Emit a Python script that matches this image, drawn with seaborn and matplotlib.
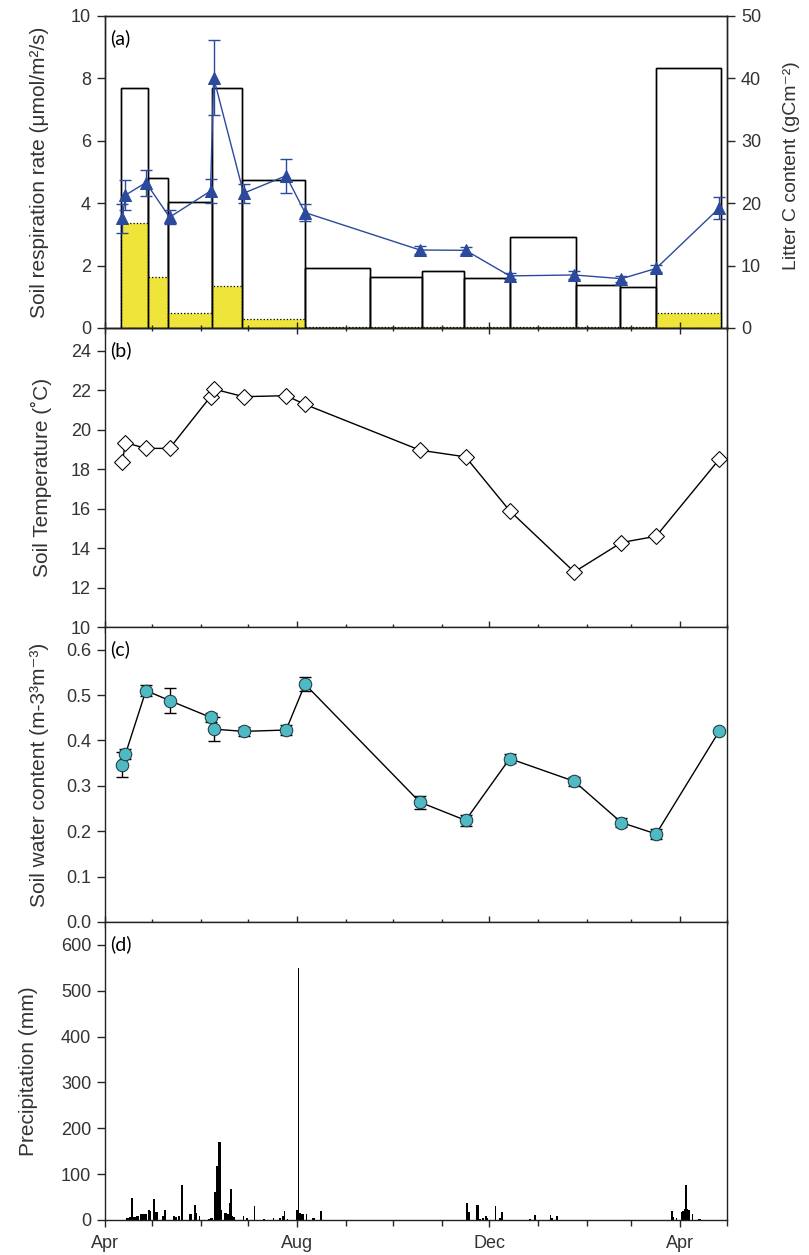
import matplotlib
matplotlib.use("Agg")
import matplotlib.pyplot as plt
import matplotlib.dates as mdates
import seaborn as sns
import pandas as pd

# sampling campaigns (shared by respiration, temperature and water content)
sample_dates = ["2009-04-12", "2009-04-14", "2009-04-27", "2009-05-12", "2009-06-07",
                "2009-06-09", "2009-06-28", "2009-07-25", "2009-08-06", "2009-10-18",
                "2009-11-16", "2009-12-14", "2010-01-24", "2010-02-23", "2010-03-17",
                "2010-04-26"]

resp = [3.51, 4.26, 4.66, 3.55, 4.39, 8.02, 4.32, 4.88, 3.70, 2.50, 2.49, 1.67, 1.70, 1.58, 1.91, 3.84]
resp_se = [0.47, 0.47, 0.42, 0.22, 0.37, 1.2, 0.3, 0.55, 0.28, 0.12, 0.12, 0.1, 0.12, 0.1, 0.12, 0.35]

temp = [18.36, 19.34, 19.05, 19.05, 21.67, 22.06, 21.67, 21.72, 21.28, 18.96, 18.62, 15.89,
        12.79, 14.28, 14.60, 18.49]

water = [0.347, 0.370, 0.510, 0.488, 0.451, 0.425, 0.420, 0.423, 0.524, 0.264, 0.224, 0.360,
         0.310, 0.219, 0.194, 0.420]
water_se = [0.028, 0.011, 0.012, 0.028, 0.010, 0.027, 0.010, 0.010, 0.016, 0.014, 0.012, 0.010,
            0.010, 0.010, 0.012, 0.0]

# litter collection periods (right axis of panel a)
litter_start = ["2009-04-11", "2009-04-28", "2009-05-11", "2009-06-08", "2009-06-27", "2009-08-06",
                "2009-09-16", "2009-10-19", "2009-11-15", "2009-12-14", "2010-01-25", "2010-02-22",
                "2010-03-17"]
litter_end = ["2009-04-28", "2009-05-11", "2009-06-08", "2009-06-27", "2009-08-06", "2009-09-16",
              "2009-10-19", "2009-11-15", "2009-12-14", "2010-01-25", "2010-02-22", "2010-03-17",
              "2010-04-27"]
litter_total = [38.5, 24.1, 20.2, 38.5, 23.7, 9.6, 8.1, 9.1, 8.0, 14.6, 6.9, 6.5, 41.7]
litter_fresh = [16.8, 8.2, 2.35, 6.7, 1.4, 0.2, 0.2, 0.2, 0.2, 0.2, 0.2, 0.2, 2.35]

# daily precipitation, days counted from 2009-04-01
precip_day = [14, 15, 16, 17, 18, 19, 20, 21, 23, 24, 25, 26, 28, 29, 31, 32, 33, 37, 38,
              44, 45, 47, 49, 54, 55, 57, 58, 60, 66, 67, 68, 70, 71, 72, 73, 74,
              76, 77, 78, 79, 80, 81, 82, 88, 90, 95, 101, 107, 111, 113, 114, 116,
              122, 123, 124, 125, 126, 128, 132, 133, 137,
              230, 231, 236, 237, 238, 240, 242, 243, 248, 251, 252,
              270, 273, 283, 284, 287,
              360, 361, 363, 366, 367, 368, 369, 370, 371, 373, 377, 378]
precip_mm = [4, 5, 6, 48, 7, 6, 8, 8, 12, 13, 13, 12, 22, 20, 45, 18, 18, 8, 22,
             8, 6, 8, 76, 14, 12, 33, 15, 8, 3, 5, 5, 62, 118, 170, 170, 22,
             15, 15, 14, 36, 68, 8, 6, 8, 4, 31, 3, 4, 5, 8, 19, 3,
             22, 550, 15, 14, 14, 14, 5, 4, 20,
             38, 18, 33, 33, 3, 5, 8, 4, 31, 5, 18,
             2, 10, 10, 5, 8,
             20, 6, 5, 18, 20, 25, 76, 25, 22, 12, 3, 3]

BLUE = "#2c4a9c"
TEAL = "#4fbac4"
YELLOW = "#efe43a"
TXT = "#333333"
LABEL_FS = 15

sns.set_style("ticks")
plt.rcParams["font.family"] = ["Liberation Sans", "DejaVu Sans"]
plt.rcParams["mathtext.fontset"] = "custom"
plt.rcParams["mathtext.rm"] = "Liberation Sans"
plt.rcParams["mathtext.it"] = "Liberation Sans:italic"
plt.rcParams["axes.linewidth"] = 1.0
plt.rcParams["axes.edgecolor"] = "#222222"

x_samp = mdates.date2num(pd.to_datetime(sample_dates))
x_lit0 = mdates.date2num(pd.to_datetime(litter_start))
x_lit1 = mdates.date2num(pd.to_datetime(litter_end))
lit_w = x_lit1 - x_lit0
x_rain = mdates.date2num(pd.Timestamp("2009-04-01") + pd.to_timedelta(precip_day, unit="D"))
xlim = mdates.date2num(pd.to_datetime(["2009-04-01", "2010-05-01"]))

fig = plt.figure(figsize=(8.09, 12.55), dpi=100)
L, R, H = 105 / 809, 727 / 809, 1255


def box(top, bot):
    return [L, 1 - bot / H, R - L, (bot - top) / H]


ax_a = fig.add_axes(box(16, 328))
ax_b = fig.add_axes(box(328, 627))
ax_c = fig.add_axes(box(627, 922))
ax_d = fig.add_axes(box(922, 1220))

# ---- (a) respiration + litter
ax_lit = ax_a.twinx()
ax_lit.bar(x_lit0, litter_total, width=lit_w, align="edge", color="white",
           edgecolor="black", linewidth=1.0, zorder=1)
ax_lit.bar(x_lit0, litter_fresh, width=lit_w, align="edge", color=YELLOW,
           edgecolor="black", linewidth=0.9, linestyle=":", zorder=2)
ax_lit.bar(x_lit0, litter_total, width=lit_w, align="edge", fill=False,
           edgecolor="black", linewidth=1.0, zorder=3)
ax_lit.set_ylim(0, 50)
ax_lit.set_yticks(range(0, 51, 10))
ax_lit.set_ylabel("Litter C content (gCm⁻²)", fontsize=14, color=TXT)
ax_lit.yaxis.set_label_coords(1.09, 0.52)

ax_a.set_zorder(ax_lit.get_zorder() + 1)
ax_a.patch.set_visible(False)
ax_a.errorbar(x_samp, resp, yerr=resp_se, fmt="none", ecolor=BLUE, elinewidth=1.0,
              capsize=4, capthick=1.0, zorder=4)
sns.lineplot(x=x_samp, y=resp, ax=ax_a, color=BLUE, linewidth=1.0, marker="^",
             markersize=9, markeredgecolor=BLUE, markerfacecolor=BLUE, zorder=5)
ax_a.set_ylim(0, 10)
ax_a.set_yticks(range(0, 11, 2))
ax_a.set_ylabel("Soil respiration rate (μmol/m²/s)", fontsize=LABEL_FS, color=TXT)
ax_a.yaxis.set_label_coords(-0.09, 0.5)

# ---- (b) temperature
sns.lineplot(x=x_samp, y=temp, ax=ax_b, color="black", linewidth=1.0, marker="D",
             markersize=8, markerfacecolor="white", markeredgecolor="black", zorder=5)
ax_b.set_ylim(10, 25.15)
ax_b.set_yticks(range(10, 25, 2))
ax_b.set_ylabel("Soil Temperature (˚C)", fontsize=LABEL_FS, color=TXT)
ax_b.yaxis.set_label_coords(-0.086, 0.5)

# ---- (c) water content
ax_c.errorbar(x_samp, water, yerr=water_se, fmt="none", ecolor="black", elinewidth=1.0,
              capsize=4.5, capthick=1.0, zorder=4)
sns.lineplot(x=x_samp, y=water, ax=ax_c, color="black", linewidth=1.0, marker="o",
             markersize=9, markerfacecolor=TEAL, markeredgecolor="#1d3a40", zorder=5)
ax_c.set_ylim(0, 0.65)
ax_c.set_yticks([0.0, 0.1, 0.2, 0.3, 0.4, 0.5, 0.6])
ax_c.yaxis.set_major_formatter(plt.FormatStrFormatter("%.1f"))
ax_c.set_ylabel("Soil water content (m-3³m⁻³)", fontsize=LABEL_FS, color=TXT)
ax_c.yaxis.set_label_coords(-0.09, 0.5)

# ---- (d) precipitation
ax_d.bar(x_rain, precip_mm, width=1.0, color="black", linewidth=0)
ax_d.set_ylim(0, 650)
ax_d.set_yticks(range(0, 601, 100))
ax_d.set_ylabel("Precipitation (mm)", fontsize=LABEL_FS, color=TXT)
ax_d.yaxis.set_label_coords(-0.107, 0.5)

panels = [(ax_a, "(a)"), (ax_b, "(b)"), (ax_c, "(c)"), (ax_d, "(d)")]
for ax, tag in panels:
    ax.set_xlim(*xlim)
    ax.set_xlabel("")
    ax.xaxis.set_major_locator(mdates.MonthLocator(bymonth=[4, 8, 12]))
    ax.xaxis.set_major_formatter(mdates.DateFormatter("%b"))
    ax.xaxis.set_minor_locator(mdates.MonthLocator())
    ax.tick_params(axis="y", direction="out", length=6, width=1, labelsize=13,
                   labelcolor=TXT, pad=4)
    ax.tick_params(axis="x", which="major", direction="inout", length=8, width=1)
    ax.tick_params(axis="x", which="minor", direction="inout", length=5, width=1)
    for s in ax.spines.values():
        s.set_visible(True)
    if ax is not ax_d:
        ax.tick_params(axis="x", labelbottom=False)
    ax.annotate(tag, xy=(0, 1), xycoords="axes fraction", xytext=(4, -16),
                textcoords="offset points", ha="left", va="center", fontsize=14,
                family=["Lato", "DejaVu Sans"], color="black")

ax_d.tick_params(axis="x", which="major", direction="out", length=5, labelsize=13,
                 labelcolor=TXT, pad=6)
ax_d.tick_params(axis="x", which="minor", direction="out", length=4)
ax_lit.tick_params(axis="y", direction="out", length=6, width=1, labelsize=13,
                   labelcolor=TXT, pad=4)

fig.savefig("out.png", dpi=100)
